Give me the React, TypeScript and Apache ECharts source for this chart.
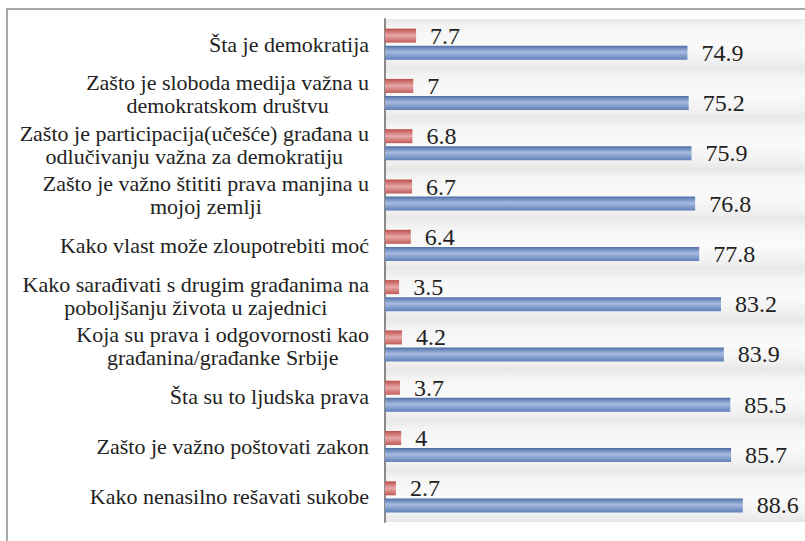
import React, { useEffect, useRef } from 'react';
import * as echarts from 'echarts';

const categories: string[] = [
  'Šta je demokratija',
  'Zašto je sloboda medija važna u\ndemokratskom društvu',
  'Zašto je participacija(učešće) građana u\nodlučivanju važna za demokratiju',
  'Zašto je važno štititi prava manjina u\nmojoj zemlji',
  'Kako vlast može zloupotrebiti moć',
  'Kako sarađivati s drugim građanima na\npoboljšanju života u zajednici',
  'Koja su prava i odgovornosti kao\ngrađanina/građanke Srbije',
  'Šta su to ljudska prava',
  'Zašto je važno poštovati zakon',
  'Kako nenasilno rešavati sukobe',
];

const redValues: number[] = [7.7, 7, 6.8, 6.7, 6.4, 3.5, 4.2, 3.7, 4, 2.7];
const blueValues: number[] = [74.9, 75.2, 75.9, 76.8, 77.8, 83.2, 83.9, 85.5, 85.7, 88.6];

const SERIF = "'Liberation Serif', 'Times New Roman', serif";

export default function App() {
  const ref = useRef<HTMLDivElement>(null);
  useEffect(() => {
    if (!ref.current) return;
    const chart = echarts.init(ref.current, null, { renderer: 'svg' });
    const blueGrad = new echarts.graphic.LinearGradient(0, 0, 0, 1, [
      { offset: 0, color: '#4d6fa8' },
      { offset: 0.45, color: '#a7bbdf' },
      { offset: 1, color: '#5f80b9' },
    ]);
    const redGrad = new echarts.graphic.LinearGradient(0, 0, 0, 1, [
      { offset: 0, color: '#bf4f4c' },
      { offset: 0.5, color: '#e6a8a7' },
      { offset: 1, color: '#c25b58' },
    ]);
    const hazeGrad = new echarts.graphic.LinearGradient(0, 0, 0, 1, [
      { offset: 0, color: '#e9e9e9' },
      { offset: 0.14, color: '#f4f4f4' },
      { offset: 0.5, color: '#fafafa' },
      { offset: 0.82, color: '#f1f1f1' },
      { offset: 1, color: '#e6e6e6' },
    ]);
    const labelStyle = {
      show: true,
      position: 'right' as const,
      distance: 14,
      fontFamily: SERIF,
      fontSize: 24,
      color: '#222',
    };
    chart.setOption({
      animation: false,
      backgroundColor: '#ffffff',
      textStyle: { fontFamily: SERIF },
      graphic: [
        {
          type: 'rect',
          shape: { x: 7, y: 9, width: 830, height: 580 },
          style: { fill: 'none', stroke: '#8c8c8c', lineWidth: 1.5 },
          silent: true,
          z: 100,
        },
      ],
      grid: { left: 385, right: 0, top: 19, bottom: 19, containLabel: false },
      xAxis: {
        type: 'value',
        min: 0,
        max: 104,
        show: false,
        splitLine: { show: false },
      },
      yAxis: {
        type: 'category',
        inverse: true,
        data: categories,
        axisLine: { show: true, lineStyle: { color: '#8a8a8a', width: 2 } },
        axisTick: { show: false },
        splitArea: { show: true, areaStyle: { color: [hazeGrad] } },
        axisLabel: {
          margin: 16,
          fontFamily: SERIF,
          fontSize: 22,
          color: '#222',
          lineHeight: 23,
          formatter: (v: string) =>
            v
              .split('\n')
              .map((l) => '{c|' + l + '}')
              .join('\n'),
          rich: {
            c: {
              align: 'center',
              fontFamily: SERIF,
              fontSize: 22,
              color: '#222',
              lineHeight: 23,
            },
          },
        },
      },
      series: [
        {
          name: 'Serija 1',
          type: 'bar',
          data: redValues,
          barWidth: 14,
          barGap: '22%',
          itemStyle: { color: redGrad },
          label: labelStyle,
        },
        {
          name: 'Serija 2',
          type: 'bar',
          data: blueValues,
          barWidth: 14,
          barGap: '22%',
          itemStyle: { color: blueGrad },
          label: labelStyle,
        },
      ],
    });
    return () => chart.dispose();
  }, []);
  return (
    <div
      ref={ref}
      style={{ position: 'fixed', left: 0, top: 0, width: 805, height: 541 }}
    />
  );
}
